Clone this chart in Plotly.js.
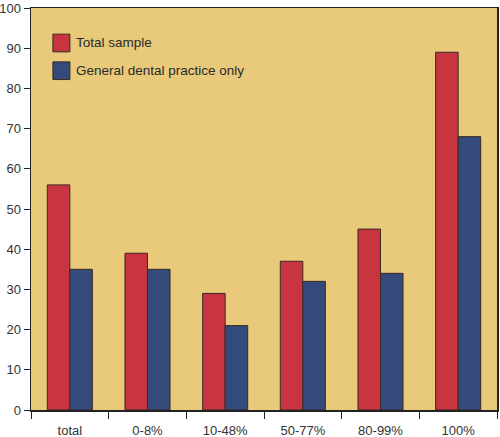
<!DOCTYPE html>
<html>
<head>
<meta charset="utf-8">
<script src="https://cdn.plot.ly/plotly-3.0.1.min.js"></script>
<style>html,body{margin:0;padding:0;background:#fff;}#chart{width:500px;height:437px;}</style>
</head>
<body>
<div id="chart"></div>
<script>
const categories = ["total", "0-8%", "10-48%", "50-77%", "80-99%", "100%"];
const totalSample = [56, 39, 29, 37, 45, 89];
const generalDental = [35, 35, 21, 32, 34, 68];
const seriesNames = ["Total sample", "General dental practice only"];
const yTicks = [0, 10, 20, 30, 40, 50, 60, 70, 80, 90, 100];

const red = "#C8343F";
const blue = "#344A7B";
const tan = "#E9C97A";
const outline = "#3b2a22";
const seriesColors = [red, blue];

const traces = [
  {type: "bar", x: categories, y: totalSample, name: seriesNames[0], showlegend: false,
   marker: {color: red, line: {color: outline, width: 1}}},
  {type: "bar", x: categories, y: generalDental, name: seriesNames[1], showlegend: false,
   marker: {color: blue, line: {color: outline, width: 1}}}
];

// Legend drawn as boxes + text (larger swatches like the reference)
const legendX0 = 0.047, legendBox = 0.0365, legendTop = 0.935, legendStep = 0.069, boxH = 0.044;
const shapes = [];
const annotations = [];
seriesNames.forEach((nm, i) => {
  const top = legendTop - i * legendStep;
  shapes.push({type: "rect", xref: "paper", yref: "paper",
    x0: legendX0, x1: legendX0 + legendBox, y0: top - boxH, y1: top,
    fillcolor: seriesColors[i], line: {color: outline, width: 1}});
  annotations.push({xref: "paper", yref: "paper", x: legendX0 + legendBox + 0.008,
    y: top - boxH / 2, xanchor: "left", yanchor: "middle", showarrow: false,
    text: nm, font: {size: 13.5, color: "#2a2a2a"}});
});

const layout = {
  width: 500, height: 437,
  margin: {l: 31, r: 3, t: 8, b: 27, pad: 0},
  paper_bgcolor: "#ffffff",
  plot_bgcolor: tan,
  barmode: "group",
  bargap: 0.42,
  bargroupgap: 0,
  font: {family: "Liberation Sans, Arial, sans-serif", size: 13, color: "#333"},
  showlegend: false,
  shapes: shapes,
  annotations: annotations,
  xaxis: {type: "category", tickson: "boundaries", ticks: "outside", ticklen: 7,
          tickcolor: "#222", showline: true, linecolor: "#222", linewidth: 1.5,
          mirror: true, showgrid: false, zeroline: false, fixedrange: true,
          tickfont: {size: 13, color: "#333"}, ticklabelstandoff: 8},
  yaxis: {range: [0, 100], tickvals: yTicks, ticks: "outside", ticklen: 6,
          tickcolor: "#222", showline: true, linecolor: "#222", linewidth: 1.5,
          mirror: true, showgrid: false, zeroline: false, fixedrange: true,
          ticklabeloverflow: "allow",
          tickfont: {size: 13, color: "#333"}}
};

Plotly.newPlot("chart", traces, layout, {displayModeBar: false, staticPlot: true});
</script>
</body>
</html>
